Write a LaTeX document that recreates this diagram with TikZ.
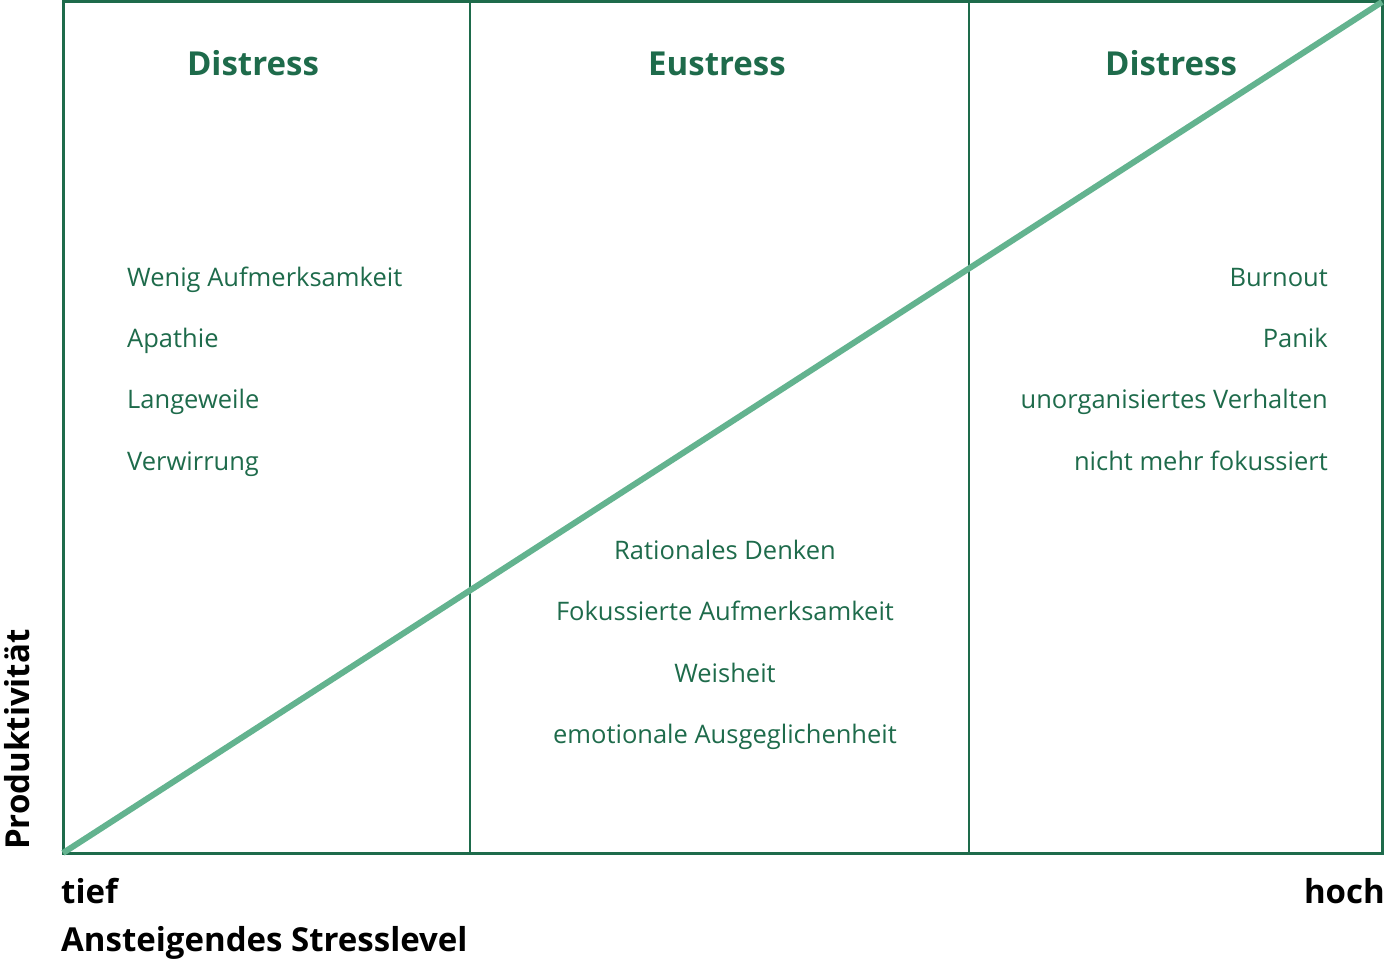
\documentclass[tikz,border=0pt]{standalone}
\usepackage{fontspec}
\setmainfont{Open Sans}
\definecolor{dgreen}{HTML}{1E6B4B}
\definecolor{lgreen}{HTML}{63B38F}
\begin{document}
\begin{tikzpicture}[x=1pt,y=-1pt,
  frame/.style={draw=dgreen,line width=3pt},
  divider/.style={draw=dgreen,line width=1.6pt},
  curve/.style={draw=lgreen,line width=6pt},
  heading/.style={text=dgreen,font=\fontsize{33}{39}\selectfont\bfseries,anchor=base,inner sep=0pt},
  item/.style={text=dgreen,font=\fontsize{25.5}{30}\selectfont,anchor=base west,inner sep=0pt},
  itemr/.style={item,anchor=base east},
  itemc/.style={item,anchor=base},
  axis/.style={text=black,font=\fontsize{33}{39}\selectfont\bfseries,inner sep=0pt}]
\useasboundingbox (0,0) rectangle (1385,960);
\coordinate (bl) at (63,853);
\coordinate (tr) at (1382,2);
\coordinate (d1t) at (470,2);
\coordinate (d1b) at (470,853);
\coordinate (d2t) at (969,2);
\coordinate (d2b) at (969,853);
\draw[divider] (d1t) -- (d1b);
\draw[divider] (d2t) -- (d2b);
\draw[frame] (bl) rectangle (tr);
\draw[curve] (bl) -- (tr);
% headings
\node[heading] (h1) at (253,75.5) {Distress};
\node[heading] (h2) at (717,75.5) {Eustress};
\node[heading] (h3) at (1171,75.5) {Distress};
% left column
\node[item] (l1) at (127,286.5) {Wenig Aufmerksamkeit};
\node[item] (l2) at (127,347.5) {Apathie};
\node[item] (l3) at (127,408.5) {Langeweile};
\node[item] (l4) at (127,470) {Verwirrung};
% middle column
\node[itemc] (m1) at (725,559) {Rationales Denken};
\node[itemc] (m2) at (725,620) {Fokussierte Aufmerksamkeit};
\node[itemc] (m3) at (725,682) {Weisheit};
\node[itemc] (m4) at (725,743) {emotionale Ausgeglichenheit};
% right column
\node[itemr] (r1) at (1328,286.5) {Burnout};
\node[itemr] (r2) at (1328,347.5) {Panik};
\node[itemr] (r3) at (1328,408.5) {unorganisiertes Verhalten};
\node[itemr] (r4) at (1328,470) {nicht mehr fokussiert};
% axes
\node[axis,anchor=base west] (tief) at (61,903) {tief};
\node[axis,anchor=base east] (hoch) at (1385,903) {hoch};
\node[axis,anchor=base west] (xl) at (61,951) {Ansteigendes Stresslevel};
\node[axis,anchor=base west,rotate=90] (yl) at (29,850) {Produktivität};
\end{tikzpicture}
\end{document}
